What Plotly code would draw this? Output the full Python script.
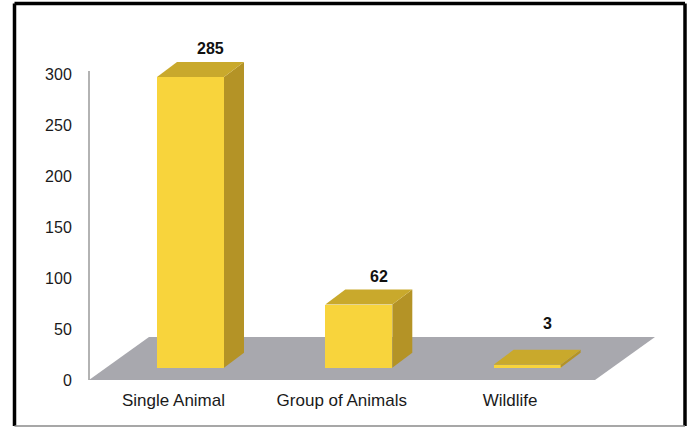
import plotly.graph_objects as go

# ---- data ----
categories = ["Single Animal", "Group of Animals", "Wildlife"]
counts = [285, 62, 3]
y_ticks = [0, 50, 100, 150, 200, 250, 300]

# ---- pseudo-3D geometry (axis units) ----
PX_X = 168.3          # px per category step
PX_Y = 1.02           # px per count unit
base = 12             # bars stand a little behind the front edge of the floor
shift = 17 / PX_X     # matching horizontal shift of the bars
bar_w = 67 / PX_X
dx, dy = 20 / PX_X, 15 / PX_Y            # bar depth
fdx, fdy = 60 / PX_X, 43 / PX_Y          # floor depth

x_lo = -84.5 / PX_X
x_hi = (660 - 173.5) / PX_X
y_hi = 360 / PX_Y
floor_r = (595 - 173.5) / PX_X

FRONT = "#f8d43c"
SIDE = "#b49326"
TOP = "#c9a92c"

pos = list(range(len(categories)))
xc = [p + shift for p in pos]

fig = go.Figure()

# front faces
fig.add_trace(go.Bar(
    x=xc, y=counts, base=[base] * len(counts), width=bar_w,
    marker=dict(color=FRONT, line=dict(width=0)),
    hoverinfo="skip", showlegend=False,
))

# side and top faces, value labels
for x, v in zip(xc, counts):
    xl, xr = x - bar_w / 2, x + bar_w / 2
    yt = base + v
    fig.add_trace(go.Scatter(
        x=[xr, xr, xr + dx, xr + dx, xr],
        y=[base, yt, yt + dy, base + dy, base],
        fill="toself", fillcolor=SIDE, mode="lines", line=dict(width=0),
        hoverinfo="skip", showlegend=False,
    ))
    fig.add_trace(go.Scatter(
        x=[xl, xr, xr + dx, xl + dx, xl],
        y=[yt, yt, yt + dy, yt + dy, yt],
        fill="toself", fillcolor=TOP, mode="lines", line=dict(width=0),
        hoverinfo="skip", showlegend=False,
    ))
    # labels sit above the bar top, or above the floor's back edge if higher
    fig.add_annotation(
        x=x + dx, y=max(yt + dy, fdy), text=f"<b>{v}</b>", showarrow=False,
        yanchor="bottom", yshift=3,
        font=dict(family="Liberation Sans, Arial", size=16, color="#111111"),
    )

# floor
floor_path = (
    f"M {x_lo},0 L {floor_r},0 L {floor_r + fdx},{fdy} "
    f"L {x_lo + fdx},{fdy} Z"
)
fig.add_shape(type="path", path=floor_path, xref="x", yref="y",
              fillcolor="#a8a8ae", line=dict(width=0), layer="below")

# vertical value axis line
fig.add_shape(type="line", xref="paper", yref="y", x0=0, x1=0, y0=0, y1=303,
              line=dict(color="#9a9a9a", width=1.5))

# outer frame
def px_x(p):
    return (p - 89) / 571

def px_y(p):
    return (380 - p) / 360

L, R, T, B = px_x(14.5), px_x(685), px_y(3.5), px_y(426)
for x0, y0, x1, y1, col, w in [
    (L, T, R, T, "#000000", 3.5),
    (L, T, L, B, "#000000", 3.5),
    (R, T, R, B, "#000000", 3.5),
    (L, B, R, B, "#8a8a8a", 1.5),
]:
    fig.add_shape(type="line", xref="paper", yref="paper",
                  x0=x0, y0=y0, x1=x1, y1=y1, line=dict(color=col, width=w))

fig.update_layout(
    width=691, height=428,
    margin=dict(l=89, r=31, t=20, b=48),
    paper_bgcolor="white", plot_bgcolor="white",
    bargap=0,
    font=dict(family="Liberation Sans, Arial", color="#1a1a1a"),
    xaxis=dict(
        range=[x_lo, x_hi], tickmode="array", tickvals=pos, ticktext=categories,
        showgrid=False, zeroline=False, showline=False,
        ticks="outside", ticklen=5, tickcolor="rgba(0,0,0,0)",
        tickfont=dict(size=17), fixedrange=True,
    ),
    yaxis=dict(
        range=[0, y_hi], tickmode="array", tickvals=y_ticks,
        showgrid=False, zeroline=False, showline=False,
        ticks="outside", ticklen=13, tickcolor="rgba(0,0,0,0)",
        tickfont=dict(size=16), fixedrange=True,
    ),
)

fig.write_html("out.html")
